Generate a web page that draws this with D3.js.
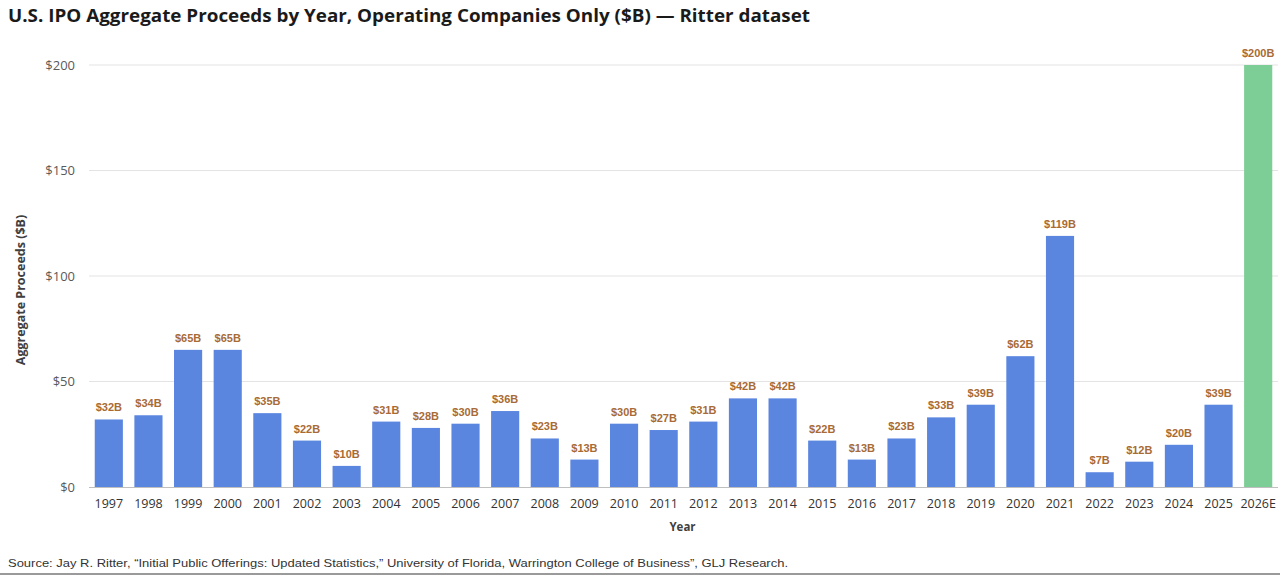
<!DOCTYPE html>
<html>
<head>
<meta charset="utf-8">
<script src="https://cdn.jsdelivr.net/npm/d3@7"></script>
<style>
  body { margin: 0; background: #fff; }
  svg { display: block; }
</style>
</head>
<body>
<div id="chart"></div>
<script>
//data
const years = ["1997","1998","1999","2000","2001","2002","2003","2004","2005","2006",
  "2007","2008","2009","2010","2011","2012","2013","2014","2015","2016",
  "2017","2018","2019","2020","2021","2022","2023","2024","2025","2026E"];
const proceeds = [32,34,65,65,35,22,10,31,28,30,36,23,13,30,27,31,42,42,22,13,
  23,33,39,62,119,7,12,20,39,200];
const yTicks = [0, 50, 100, 150, 200];

const width = 1280, height = 575;
const plotTop = 65, plotBottom = 487, plotLeft = 89, plotRight = 1278;

const svg = d3.select("#chart").append("svg")
  .attr("width", width)
  .attr("height", height);

const x = d3.scaleBand().domain(years).range([plotLeft, plotRight]).paddingInner(0.29).paddingOuter(0.145);
const y = d3.scaleLinear().domain([0, 200]).range([plotBottom, plotTop]);

//title
svg.append("text")
  .attr("x", 8).attr("y", 22)
  .attr("font-family", "Open Sans, sans-serif")
  .attr("font-weight", "bold")
  .attr("font-size", 17.5)
  .attr("fill", "#1a1a1a")
  .attr("textLength", 802)
  .attr("lengthAdjust", "spacingAndGlyphs")
  .text("U.S. IPO Aggregate Proceeds by Year, Operating Companies Only ($B) \u2014 Ritter dataset");

//gridlines
svg.append("g")
  .selectAll("line")
  .data(yTicks.filter(d => d > 0))
  .join("line")
  .attr("x1", plotLeft).attr("x2", plotRight)
  .attr("y1", d => y(d)).attr("y2", d => y(d))
  .attr("stroke", "#e3e3e3").attr("stroke-width", 1);

//y axis labels
const yAxis = d3.axisLeft(y).tickValues(yTicks).tickSize(0).tickPadding(14).tickFormat(d => "$" + d);
svg.append("g")
  .attr("transform", `translate(${plotLeft},0)`)
  .call(yAxis)
  .call(g => g.select(".domain").remove())
  .selectAll("text")
  .attr("font-family", "Open Sans, sans-serif")
  .attr("font-size", 13)
  .attr("fill", "#595959");

//bars
svg.append("g")
  .selectAll("rect")
  .data(years)
  .join("rect")
  .attr("x", d => x(d))
  .attr("y", (d, i) => y(proceeds[i]))
  .attr("width", x.bandwidth())
  .attr("height", (d, i) => y(0) - y(proceeds[i]))
  .attr("fill", d => d === "2026E" ? "#7dcd96" : "#5b86e0");

//value labels
svg.append("g")
  .selectAll("text")
  .data(years)
  .join("text")
  .attr("x", d => x(d) + x.bandwidth() / 2)
  .attr("y", (d, i) => y(proceeds[i]) - 8)
  .attr("text-anchor", "middle")
  .attr("font-family", "Liberation Sans, Arial, sans-serif")
  .attr("font-weight", "bold")
  .attr("font-size", 11)
  .attr("fill", "#a86b36")
  .text((d, i) => "$" + proceeds[i] + "B");

//x axis
const xAxis = d3.axisBottom(x).tickSize(0).tickPadding(12);
svg.append("g")
  .attr("transform", `translate(0,${plotBottom})`)
  .call(xAxis)
  .call(g => g.select(".domain").attr("stroke", "#bfbfbf").attr("d", `M${plotLeft},0.5H${plotRight}`))
  .selectAll("text")
  .attr("font-family", "Open Sans, sans-serif")
  .attr("font-size", 12.5)
  .attr("fill", "#333");

//axis titles
svg.append("text")
  .attr("x", (plotLeft + plotRight) / 2 - 1).attr("y", 531)
  .attr("text-anchor", "middle")
  .attr("font-family", "Open Sans, sans-serif")
  .attr("font-weight", "bold")
  .attr("font-size", 11.5)
  .attr("fill", "#404040")
  .text("Year");

svg.append("text")
  .attr("transform", "translate(25,290) rotate(-90)")
  .attr("text-anchor", "middle")
  .attr("font-family", "Open Sans, sans-serif")
  .attr("font-weight", "bold")
  .attr("font-size", 12.5)
  .attr("fill", "#404040")
  .text("Aggregate Proceeds ($B)");

//source note
svg.append("text")
  .attr("x", 8).attr("y", 567)
  .attr("font-family", "Liberation Sans, sans-serif")
  .attr("font-size", 11.5)
  .attr("fill", "#333")
  .attr("textLength", 780)
  .attr("lengthAdjust", "spacingAndGlyphs")
  .text("Source: Jay R. Ritter, \u201CInitial Public Offerings: Updated Statistics,\u201D University of Florida, Warrington College of Business\u201D, GLJ Research.");

svg.append("line")
  .attr("x1", 0).attr("x2", width)
  .attr("y1", 574).attr("y2", 574)
  .attr("stroke", "#9a9a9a").attr("stroke-width", 2);
</script>
</body>
</html>
